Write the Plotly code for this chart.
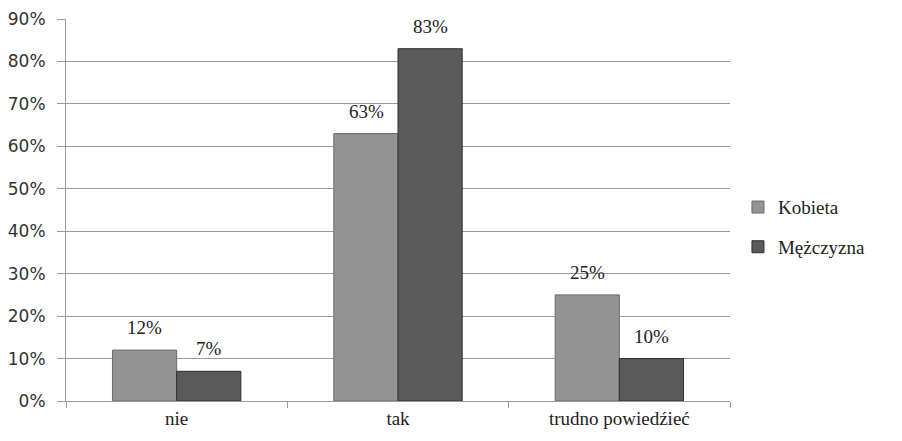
import plotly.graph_objects as go

categories = ["nie", "tak", "trudno powiedźieć"]
kobieta = [0.12, 0.63, 0.25]
mezczyzna = [0.07, 0.83, 0.10]
series_names = ["Kobieta", "Mężczyzna"]

serif = "Liberation Serif"
sans = "DejaVu Sans"

fig = go.Figure()
fig.add_trace(go.Bar(
    x=categories, y=kobieta, name=series_names[0],
    marker=dict(color="#939393", line=dict(color="#6a6a6a", width=1)),
    legendgroup="a",
))
fig.add_trace(go.Bar(
    x=categories, y=mezczyzna, name=series_names[1],
    marker=dict(color="#5a5a5a", line=dict(color="#2e2e2e", width=1)),
    legendgroup="b",
))

annotations = []
for vals, shift in ((kobieta, -32), (mezczyzna, 32)):
    for c, v in zip(categories, vals):
        annotations.append(dict(
            x=c, y=v, xref="x", yref="y", text=f"{v:.0%}",
            showarrow=False, yanchor="bottom", xanchor="center",
            xshift=shift, yshift=10,
            font=dict(family=serif, size=19, color="#222"),
        ))

fig.update_layout(
    width=902, height=441,
    margin=dict(l=66, r=172, t=19, b=40),
    paper_bgcolor="white", plot_bgcolor="white",
    barmode="group", bargap=0.42, bargroupgap=0,
    annotations=annotations,
    legend=dict(
        x=1.012, y=0.455, xanchor="left", yanchor="middle",
        font=dict(family=serif, size=19, color="#222"),
        traceorder="grouped", tracegroupgap=12,
        itemwidth=30,
    ),
    showlegend=True,
)
fig.update_yaxes(
    range=[0, 0.9], dtick=0.1, tickformat=".0%",
    showgrid=True, gridcolor="#9a9a9a", gridwidth=1,
    showline=True, linecolor="#9a9a9a", linewidth=1,
    ticks="outside", ticklen=8, tickcolor="#9a9a9a",
    ticklabelstandoff=8, automargin=False,
    tickfont=dict(family=sans, size=17, color="#333"),
    zeroline=False,
)
fig.update_xaxes(
    showline=True, linecolor="#9a9a9a", linewidth=1,
    ticks="outside", ticklen=6, tickcolor="#9a9a9a", tickson="boundaries",
    automargin=False,
    tickfont=dict(family=serif, size=19, color="#222"),
    showgrid=False,
)

fig.write_html("out.html")
